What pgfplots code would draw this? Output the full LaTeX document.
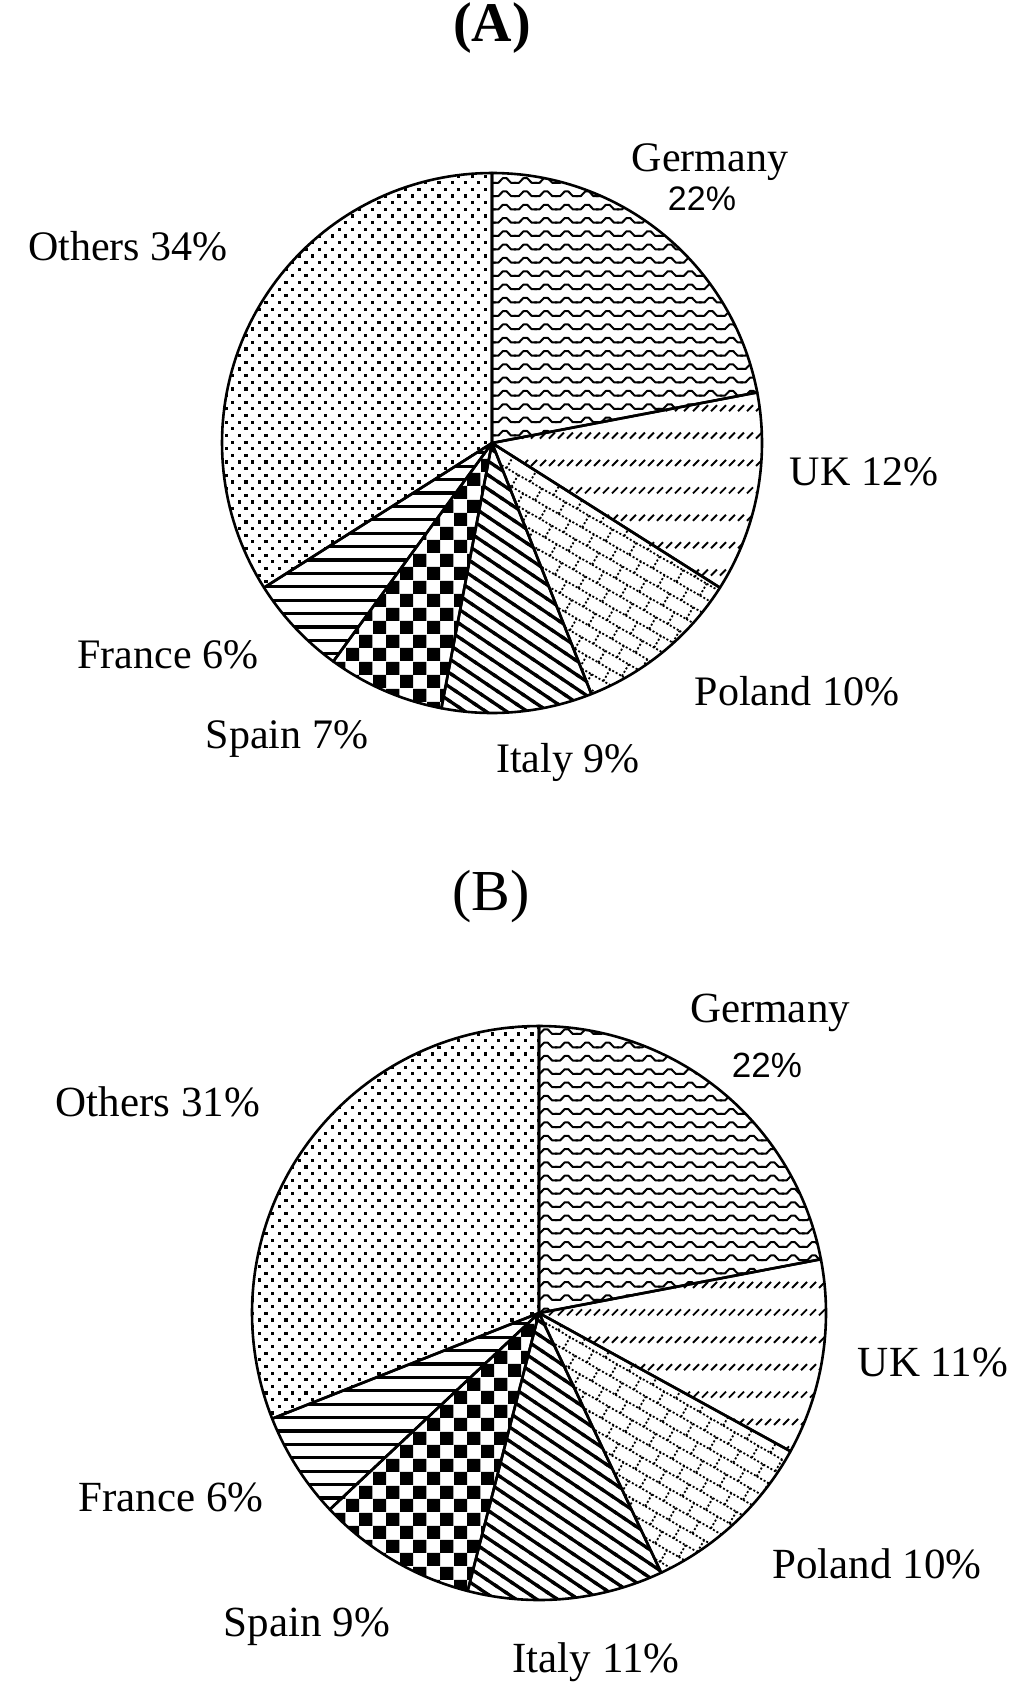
\documentclass[border=0pt]{standalone}
\usepackage{graphicx}
\usepackage{fontspec}
\setmainfont{Liberation Serif}
\newfontfamily\arial{Liberation Sans}
\usepackage{pgfplots}
\pgfplotsset{compat=1.18}
\usetikzlibrary{patterns.meta}

\tikzdeclarepattern{name=wavy, type=uncolored,
  bounding box={(-0.6bp,-1bp) and (10.9bp,3.4bp)}, tile size={(10.3bp,6.65bp)},
  code={\draw[line width=1bp] (-0.6bp,0) -- (2bp,0) -- (4.2bp,2.3bp) -- (6.1bp,2.3bp) -- (8.3bp,0) -- (10.9bp,0);}}
\tikzdeclarepattern{name=ukdash, type=uncolored,
  bounding box={(-0.6bp,-0.6bp) and (3.6bp,3.6bp)}, tile size={(4.5bp,13.7bp)},
  code={\draw[line width=0.95bp] (0,0) -- (3bp,3bp);}}
\tikzdeclarepattern{name=brickdot, type=uncolored,
  bounding box={(-0.6bp,-0.6bp) and (14.2bp,14.2bp)}, tile size={(13.6bp,13.6bp)},
  tile transformation={rotate=-30},
  code={\draw[line width=0.9bp, dash pattern=on 1bp off 1bp]
     (0,0) -- (13.6bp,0) (0,6.8bp) -- (13.6bp,6.8bp) (0,0) -- (0,6.8bp) (6.8bp,6.8bp) -- (6.8bp,13.6bp);}}
\tikzdeclarepattern{name=diag, type=uncolored,
  bounding box={(-1bp,-1bp) and (6.8bp,1bp)}, tile size={(5.8bp,5.8bp)},
  tile transformation={rotate=-34},
  code={\draw[line width=1.65bp] (-1bp,0) -- (6.8bp,0);}}
\tikzdeclarepattern{name=checker, type=uncolored,
  bounding box={(0,0) and (13.3bp,13.3bp)}, tile size={(13.3bp,13.3bp)},
  code={\fill (0,0) rectangle (6.65bp,6.65bp); \fill (6.65bp,6.65bp) rectangle (13.3bp,13.3bp);}}
\tikzdeclarepattern{name=hlines, type=uncolored,
  bounding box={(-0.5bp,-1bp) and (5.5bp,1bp)}, tile size={(5bp,6.7bp)},
  code={\fill (-0.5bp,-0.8bp) rectangle (5.5bp,0.8bp);}}
\tikzdeclarepattern{name=dotgrid, type=uncolored,
  bounding box={(-1bp,-1bp) and (6.65bp,6.65bp)}, tile size={(6.65bp,6.65bp)},
  code={\fill (-0.8bp,-0.8bp) rectangle (0.8bp,0.8bp);
        \fill (2.525bp,2.525bp) rectangle (4.125bp,4.125bp);}}

% #1 cx, #2 cy, #3 r, #4 cumulative start %, #5 cumulative end %, #6 pattern
\newcommand\slice[6]{%
  \addplot[draw=black, line width=1.3bp, line join=round, pattern=#6, pattern color=black,
    domain={90-3.6*#5}:{90-3.6*#4}, samples=80]
    ({#1+#3*cos(x)},{#2-#3*sin(x)}) -- (axis cs:#1,#2) -- cycle;}

\begin{document}
\begin{tikzpicture}
\begin{axis}[
  width=512bp, height=849.5bp, scale only axis,
  xmin=0, xmax=1024, ymin=0, ymax=1699, y dir=reverse,
  hide axis, clip=false]

% ---------------- (A) ----------------
% Germany 22, UK 12, Poland 10, Italy 9, Spain 7, France 6, Others 34
\slice{492}{443}{270}{0}{22}{wavy}
\slice{492}{443}{270}{22}{34}{ukdash}
\slice{492}{443}{270}{34}{44}{brickdot}
\slice{492}{443}{270}{44}{53}{diag}
\slice{492}{443}{270}{53}{60}{checker}
\slice{492}{443}{270}{60}{66}{hlines}
\slice{492}{443}{270}{66}{100}{dotgrid}

\node[anchor=base] at (axis cs:492,42) {\fontsize{28bp}{28bp}\selectfont\bfseries (A)};
\node[anchor=base] at (axis cs:710,171) {\fontsize{21bp}{21bp}\selectfont Germany};
\node[anchor=base] at (axis cs:702,210) {\fontsize{17bp}{17bp}\selectfont\arial 22\%};
\node[anchor=base] at (axis cs:128,260) {\fontsize{21bp}{21bp}\selectfont Others 34\%};
\node[anchor=base] at (axis cs:864,485) {\fontsize{21bp}{21bp}\selectfont UK 12\%};
\node[anchor=base] at (axis cs:797,705) {\fontsize{21bp}{21bp}\selectfont Poland 10\%};
\node[anchor=base] at (axis cs:568,772) {\fontsize{21bp}{21bp}\selectfont Italy 9\%};
\node[anchor=base] at (axis cs:287,748) {\fontsize{21bp}{21bp}\selectfont Spain 7\%};
\node[anchor=base] at (axis cs:168,668) {\fontsize{21bp}{21bp}\selectfont France 6\%};

% ---------------- (B) ----------------
% Germany 22, UK 11, Poland 10, Italy 11, Spain 9, France 6, Others 31
\slice{539}{1313}{287}{0}{22}{wavy}
\slice{539}{1313}{287}{22}{33}{ukdash}
\slice{539}{1313}{287}{33}{43}{brickdot}
\slice{539}{1313}{287}{43}{54}{diag}
\slice{539}{1313}{287}{54}{63}{checker}
\slice{539}{1313}{287}{63}{69}{hlines}
\slice{539}{1313}{287}{69}{100}{dotgrid}

\node[anchor=base] at (axis cs:491,910) {\fontsize{29bp}{29bp}\selectfont (B)};
\node[anchor=base] at (axis cs:770,1022) {\fontsize{21.5bp}{21.5bp}\selectfont Germany};
\node[anchor=base] at (axis cs:767,1077) {\fontsize{17.5bp}{17.5bp}\selectfont\arial 22\%};
\node[anchor=base] at (axis cs:158,1116) {\fontsize{21.5bp}{21.5bp}\selectfont Others 31\%};
\node[anchor=base] at (axis cs:933,1376) {\fontsize{21.5bp}{21.5bp}\selectfont UK 11\%};
\node[anchor=base] at (axis cs:877,1578) {\fontsize{21.5bp}{21.5bp}\selectfont Poland 10\%};
\node[anchor=base] at (axis cs:596,1672) {\fontsize{21.5bp}{21.5bp}\selectfont Italy 11\%};
\node[anchor=base] at (axis cs:307,1636) {\fontsize{21.5bp}{21.5bp}\selectfont Spain 9\%};
\node[anchor=base] at (axis cs:171,1511) {\fontsize{21.5bp}{21.5bp}\selectfont France 6\%};
\end{axis}
\pgfresetboundingbox
\path (0,0) rectangle (512bp,849.5bp);
\end{tikzpicture}
\end{document}
